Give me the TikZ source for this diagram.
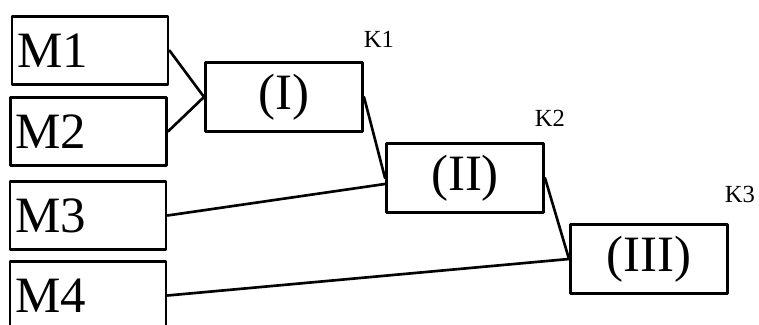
\documentclass[tikz,border=0pt]{standalone}
\usepackage{fontspec}
\setmainfont{Liberation Serif}
\usetikzlibrary{positioning}
\tikzset{
	mbox/.style={draw, line width=1.7pt, minimum width=3.12cm, minimum height=1.37cm, text width=2.92cm, inner xsep=0.1cm, align=left, font=\fontsize{29}{30}\selectfont},
	kbox/.style={draw, line width=1.7pt, minimum width=3.14cm, minimum height=1.39cm, font=\fontsize{29}{30}\selectfont},
	klabel/.style={font=\fontsize{14}{15}\selectfont}
}
\begin{document}
\begin{tikzpicture}[line join=round, line cap=round]
		\useasboundingbox (0,0) rectangle (15.18,6.5);
		% left column
		\node[mbox] (m1) at (1.80,5.49) {M1};
		\node[mbox] (m2) at (1.77,3.87) {M2};
		\node[mbox] (m3) at (1.76,2.19) {M3};
		\node[mbox] (m4) at (1.76,0.59) {M4};
		% stages
		\node[kbox] (k1) at (5.68,4.56) {(I)};
		\node[kbox] (k2) at (9.30,2.94) {(II)};
		\node[kbox] (k3) at (12.98,1.32) {(III)};
		\node[klabel] (l1) at (7.58,5.71) {K1};
		\node[klabel] (l2) at (11.00,4.14) {K2};
		\node[klabel] (l3) at (14.80,2.62) {K3};
		% links
		\draw[line width=1.5pt] (m1.east)--(k1.west);
		\draw[line width=1.5pt] (m2.east)--(k1.west);
		\draw[line width=1.5pt] (k1.east)--(k2.west);
		\draw[line width=1.5pt] (m3.east)--([yshift=-0.12cm]k2.west);
		\draw[line width=1.5pt] (k2.east)--(k3.west);
		\draw[line width=1.5pt] (m4.east)--(k3.west);
		\end{tikzpicture}
\end{document}
